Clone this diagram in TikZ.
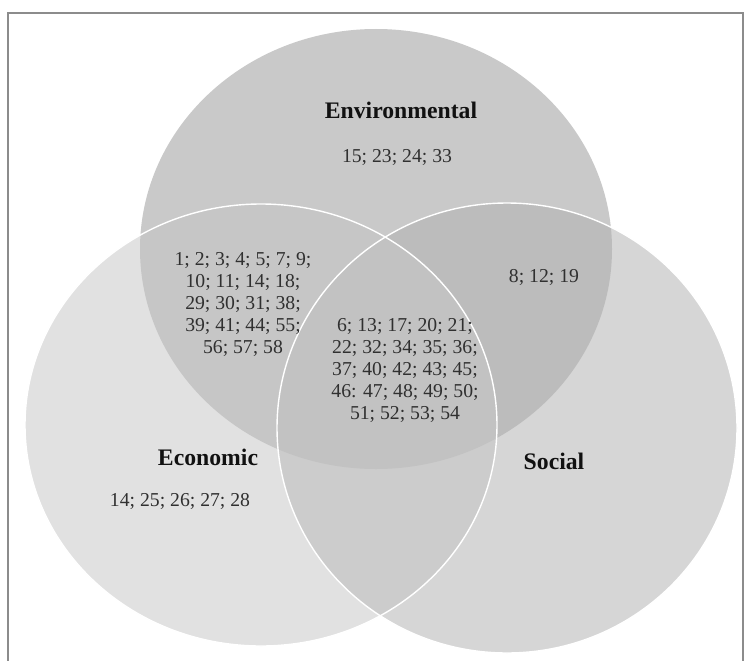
\documentclass[tikz,border=0pt]{standalone}
\usepackage{fontspec}
\setmainfont{Liberation Serif}
\definecolor{envonly}{HTML}{C9C9C9}
\definecolor{econonly}{HTML}{E1E1E1}
\definecolor{soconly}{HTML}{D6D6D6}
\definecolor{envecon}{HTML}{C6C6C6}
\definecolor{envsoc}{HTML}{BCBCBC}
\definecolor{econsoc}{HTML}{CCCCCC}
\definecolor{allthree}{HTML}{C2C2C2}
\definecolor{framegray}{HTML}{8C8C8C}
\definecolor{numtext}{HTML}{303030}
\definecolor{titletext}{HTML}{111111}
\tikzset{
  titlelabel/.style={inner sep=0pt, text=titletext, font=\fontsize{23.7}{28}\selectfont\bfseries},
  numlabel/.style={inner sep=0pt, text=numtext, align=center, font=\fontsize{19.7}{22}\selectfont},
  whiteline/.style={draw=white, line width=1.4pt}
}
\def\envpath{(376,249) ellipse [x radius=236, y radius=220]}
\def\econpath{(261,425) ellipse [x radius=236, y radius=221]}
\def\socpath{(507,428) ellipse [x radius=230, y radius=225]}
\begin{document}
\begin{tikzpicture}[x=1pt, y=-1pt]
\useasboundingbox (0,0) rectangle (744,661);
\fill[white] (0,0) rectangle (744,661);
% single regions
\fill[envonly] \envpath;
\fill[econonly] \econpath;
\fill[soconly] \socpath;
% pairwise
\begin{scope}
  \clip \envpath;
  \fill[envecon] \econpath;
  \fill[envsoc] \socpath;
\end{scope}
\begin{scope}
  \clip \econpath;
  \fill[econsoc] \socpath;
\end{scope}
\begin{scope}
  \clip \envpath;
  \clip \econpath;
  \fill[allthree] \socpath;
\end{scope}
% white outlines
\draw[whiteline] \econpath;
\draw[whiteline] \socpath;
% frame
\coordinate (fbl) at (8,661);
\coordinate (ftl) at (8,13);
\coordinate (ftr) at (743,13);
\coordinate (fbr) at (743,661);
\draw[framegray, line width=1.6pt] (fbl) -- (ftl) -- (ftr) -- (fbr);
% labels
\node[titlelabel] (envtitle) at (401,110) {Environmental};
\node[numlabel] (envnums) at (397,157) {15; 23; 24; 33};
\node[numlabel] (enveconnums) at (243,304) {1; 2; 3; 4; 5; 7; 9;\\10; 11; 14; 18;\\29; 30; 31; 38;\\39; 41; 44; 55;\\56; 57; 58};
\node[numlabel] (envsocnums) at (544,277) {8; 12; 19};
\node[numlabel] (allnums) at (405,370) {6; 13; 17; 20; 21;\\22; 32; 34; 35; 36;\\37; 40; 42; 43; 45;\\46: 47; 48; 49; 50;\\51; 52; 53; 54};
\node[titlelabel] (econtitle) at (208,457) {Economic};
\node[numlabel] (econnums) at (180,501) {14; 25; 26; 27; 28};
\node[titlelabel] (soctitle) at (554,461) {Social};
\end{tikzpicture}
\end{document}
